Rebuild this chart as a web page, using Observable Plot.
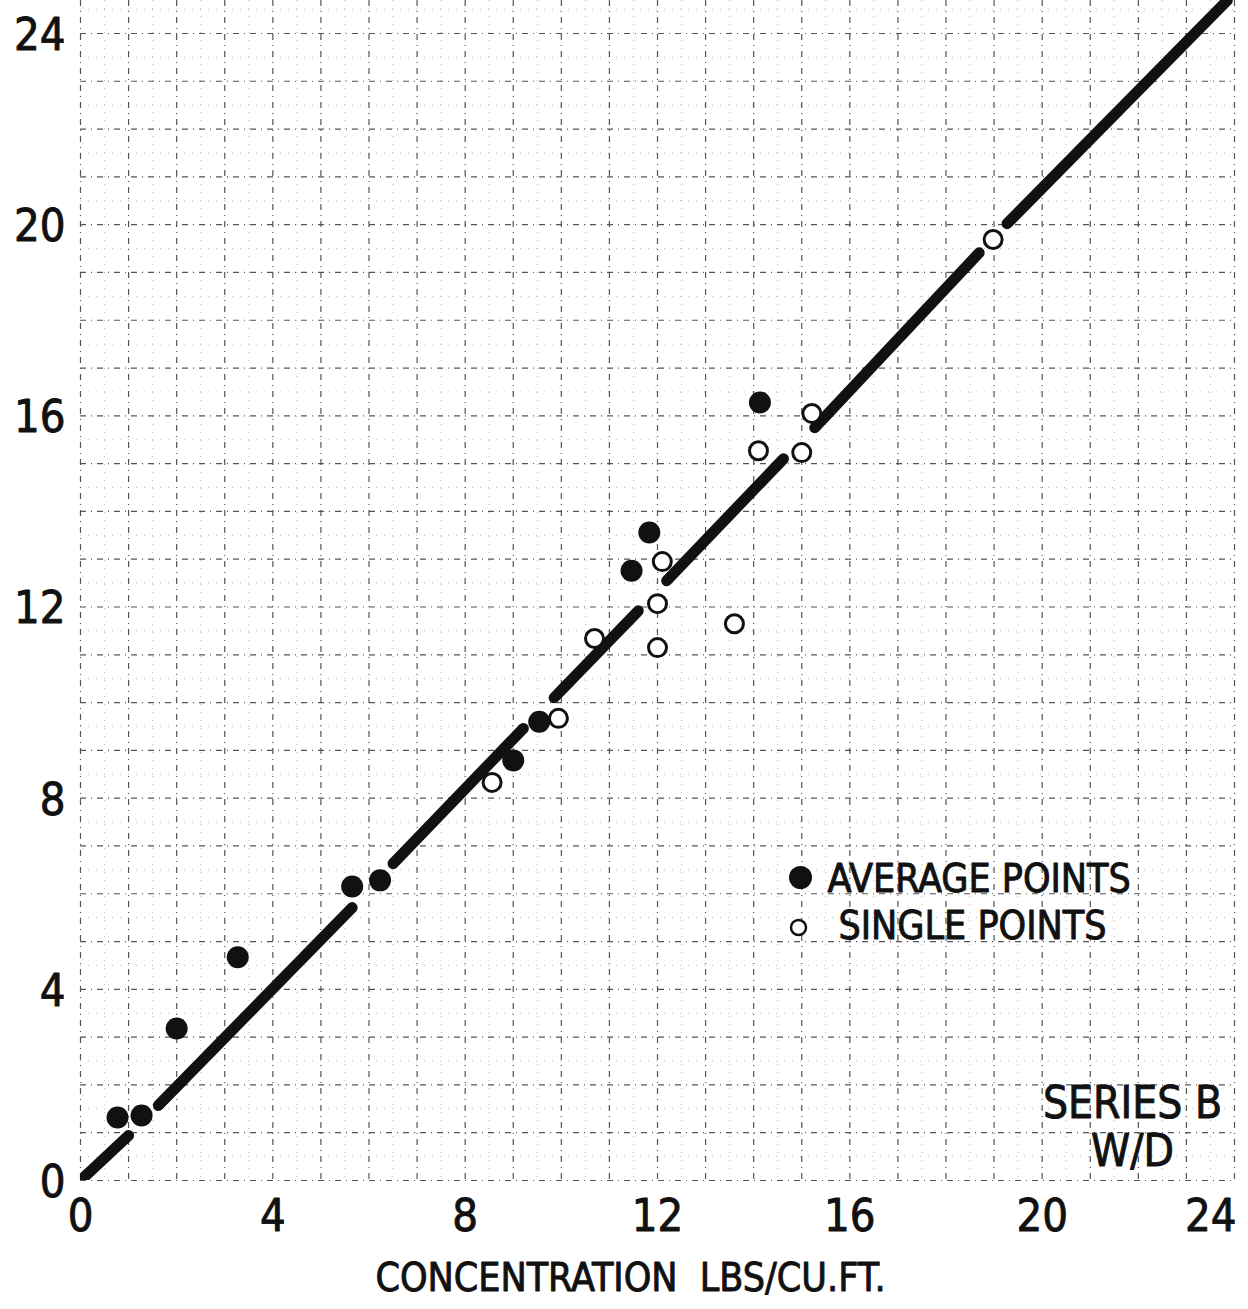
<!DOCTYPE html>
<html>
<head>
<meta charset="utf-8">
<script src="https://cdn.jsdelivr.net/npm/d3@7"></script>
<script src="https://cdn.jsdelivr.net/npm/@observablehq/plot@0.6"></script>
<style>
  html, body { margin: 0; padding: 0; background: #fff; }
  #chart svg { display: block; }
</style>
</head>
<body>
<div id="chart"></div>
<script>
// Axis ticks
const xTicks = [0, 4, 8, 12, 16, 20, 24];
const yTicks = [0, 4, 8, 12, 16, 20, 24];

// Average points (filled)
const avgX = [0.77, 1.27, 2.0, 3.27, 5.65, 6.23, 9.0, 9.54, 11.46, 11.83, 14.13];
const avgY = [1.32, 1.36, 3.18, 4.67, 6.15, 6.28, 8.79, 9.6, 12.76, 13.56, 16.28];

// Single points (open)
const singleX = [8.56, 9.94, 10.69, 12.0, 12.0, 12.1, 13.6, 14.1, 15.0, 15.21, 18.98];
const singleY = [8.33, 9.67, 11.34, 11.15, 12.07, 12.95, 11.65, 15.27, 15.23, 16.05, 19.69];

// Hand-drawn fitted line, broken where it passes the points
const segX0 = [0.0, 1.62, 6.5, 9.85, 12.19, 15.27, 19.27];
const segY0 = [0.0, 1.57, 6.63, 10.1, 12.55, 15.75, 20.02];
const segX1 = [1.0, 5.65, 9.21, 11.6, 14.62, 18.69, 23.85];
const segY1 = [0.94, 5.71, 9.46, 11.92, 15.1, 19.41, 24.69];

const legendLabels = ["AVERAGE POINTS", "SINGLE POINTS"];
const seriesLabel = "SERIES B\nW/D";
const xTitle = "CONCENTRATION  LBS/CU.FT.";

const avg = avgX.map((x, i) => ({x, y: avgY[i]}));
const single = singleX.map((x, i) => ({x, y: singleY[i]}));
const segments = segX0.map((x, i) => ({x1: x, y1: segY0[i], x2: segX1[i], y2: segY1[i]}));

const font = "'Liberation Sans Narrow', 'DejaVu Sans Condensed', 'Arial Narrow', sans-serif";
const ink = "#111";
// lettering drawn with a slight outline for a pen-stroke weight
const letter = {fill: ink, stroke: ink, strokeWidth: 0.9};

const chart = Plot.plot({
  width: 1248,
  height: 1309,
  marginLeft: 80,
  marginRight: 14,
  marginTop: 0,
  marginBottom: 129,
  style: {fontFamily: font, background: "#fff", color: ink},
  x: {domain: [0, 24], axis: null},
  y: {domain: [0, 24.69], axis: null},
  marks: [
    // faint half-unit graph paper lines
    Plot.ruleX(d3.range(0.5, 24, 1), {stroke: "#bbb", strokeWidth: 1, strokeDasharray: "1,7"}),
    Plot.ruleY(d3.range(0.5, 24.6, 1), {stroke: "#bbb", strokeWidth: 1, strokeDasharray: "1,7"}),
    // unit grid lines
    Plot.ruleX(d3.range(0, 25), {stroke: "#555", strokeWidth: 1.2, strokeDasharray: "6,5,1,5"}),
    Plot.ruleY(d3.range(0, 25), {stroke: "#555", strokeWidth: 1.2, strokeDasharray: "6,5,1,5"}),
    // fitted line
    Plot.link(segments, {x1: "x1", y1: "y1", x2: "x2", y2: "y2", stroke: ink, strokeWidth: 11, strokeLinecap: "round", clip: true}),
    // data points
    Plot.dot(avg, {x: "x", y: "y", r: 11, fill: ink}),
    Plot.dot(single, {x: "x", y: "y", r: 9, fill: "#fff", stroke: ink, strokeWidth: 3}),
    // y tick labels
    Plot.text(yTicks, {x: 0, y: d => d, text: d => String(d), textAnchor: "end", dx: -15, dy: 2, fontSize: 45, ...letter}),
    // x tick labels
    Plot.text(xTicks.slice(0, -1), {x: d => d, y: 0, text: d => String(d), dy: 36, fontSize: 45, ...letter}),
    Plot.text(xTicks.slice(-1), {x: d => d, y: 0, text: d => String(d), textAnchor: "end", dx: 2, dy: 36, fontSize: 45, ...letter}),
    // x axis title
    Plot.text([xTitle], {frameAnchor: "bottom", lineAnchor: "middle", dx: -27, dy: 98, fontSize: 39, ...letter}),
    // legend
    Plot.dot([legendLabels[0]], {frameAnchor: "top-left", dx: 720, dy: 877, r: 11.5, fill: ink}),
    Plot.dot([legendLabels[1]], {frameAnchor: "top-left", dx: 718, dy: 927, r: 7.5, fill: "#fff", stroke: ink, strokeWidth: 2.5}),
    Plot.text([legendLabels[0]], {frameAnchor: "top-left", lineAnchor: "middle", dx: 747, dy: 879, textAnchor: "start", fontSize: 39, ...letter}),
    Plot.text([legendLabels[1]], {frameAnchor: "top-left", lineAnchor: "middle", dx: 758, dy: 926, textAnchor: "start", fontSize: 39, ...letter}),
    // series label
    Plot.text([seriesLabel], {frameAnchor: "top-left", lineAnchor: "top", dx: 1052, dy: 1083, lineHeight: 1.1, textAnchor: "middle", fontSize: 44, ...letter})
  ]
});

document.getElementById("chart").appendChild(chart);
</script>
</body>
</html>
